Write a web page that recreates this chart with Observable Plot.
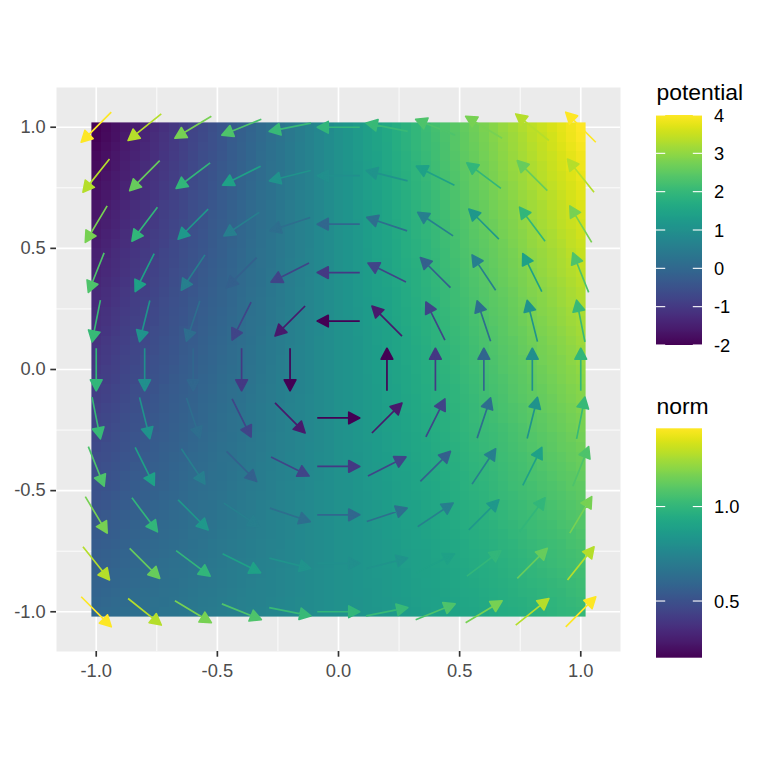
<!DOCTYPE html>
<html><head><meta charset="utf-8">
<script src="https://cdn.jsdelivr.net/npm/d3@7"></script>
<script src="https://cdn.jsdelivr.net/npm/@observablehq/plot@0.6"></script>
<style>
body{margin:0;background:#fff}
#chart{position:relative;width:768px;height:768px;font-family:"Liberation Sans",Arial,Helvetica,sans-serif}
#chart svg{position:absolute;left:0;top:0}
</style>
</head><body><div id="chart"></div>
<script>
// grid positions of the vectors / potential samples
const gridX = [-1, -0.8, -0.6, -0.4, -0.2, 0, 0.2, 0.4, 0.6, 0.8, 1];
const gridY = [1, 0.8, 0.6, 0.4, 0.2, 0, -0.2, -0.4, -0.6, -0.8, -1];
// potential read at the grid points (rows follow gridY, columns gridX)
const potentialRows = [
  [-2.0, -1.4, -0.8, -0.2, 0.4, 1.0, 1.6, 2.2, 2.8, 3.4, 4.0],
  [-1.8, -1.24, -0.68, -0.12, 0.44, 1.0, 1.56, 2.12, 2.68, 3.24, 3.8],
  [-1.6, -1.08, -0.56, -0.04, 0.48, 1.0, 1.52, 2.04, 2.56, 3.08, 3.6],
  [-1.4, -0.92, -0.44, 0.04, 0.52, 1.0, 1.48, 1.96, 2.44, 2.92, 3.4],
  [-1.2, -0.76, -0.32, 0.12, 0.56, 1.0, 1.44, 1.88, 2.32, 2.76, 3.2],
  [-1.0, -0.6, -0.2, 0.2, 0.6, 1.0, 1.4, 1.8, 2.2, 2.6, 3.0],
  [-0.8, -0.44, -0.08, 0.28, 0.64, 1.0, 1.36, 1.72, 2.08, 2.44, 2.8],
  [-0.6, -0.28, 0.04, 0.36, 0.68, 1.0, 1.32, 1.64, 1.96, 2.28, 2.6],
  [-0.4, -0.12, 0.16, 0.44, 0.72, 1.0, 1.28, 1.56, 1.84, 2.12, 2.4],
  [-0.2, 0.04, 0.28, 0.52, 0.76, 1.0, 1.24, 1.48, 1.72, 1.96, 2.2],
  [0.0, 0.2, 0.4, 0.6, 0.8, 1.0, 1.2, 1.4, 1.6, 1.8, 2.0]
];
// vector components: horizontal part is constant along each row, vertical part along each column
const uByRow = [-1, -0.8, -0.6, -0.4, -0.2, 0, 0.2, 0.4, 0.6, 0.8, 1];
const vByCol = [-1, -0.8, -0.6, -0.4, -0.2, 0, 0.2, 0.4, 0.6, 0.8, 1];
const axisTicks = [-1, -0.5, 0, 0.5, 1];
const minorTicks = [-0.75, -0.25, 0.25, 0.75];
const potentialDomain = [-2, 4];
const potentialTicks = [-2, -1, 0, 1, 2, 3, 4];
const normDomain = [0.2, 1.4142];
const normTicks = [0.5, 1.0];

const potentialData = [];
const vectors = [];
gridY.forEach((y, r) => gridX.forEach((x, c) => {
  potentialData.push({x, y, potential: potentialRows[r][c]});
  const u = uByRow[r], v = vByCol[c], norm = Math.hypot(u, v);
  if (norm > 0) vectors.push({x, y, u, v, norm});
}));

const FONT = '"Liberation Sans", Arial, Helvetica, sans-serif';
const common = {
  width: 768, height: 768,
  marginLeft: 56, marginRight: 148, marginTop: 87, marginBottom: 117
};
const dom = [-1.164, 1.164];
const ext = 1.0199; // raster half extent (cells of 0.04 centred on samples)

const base = Plot.plot({
  ...common,
  style: {fontFamily: FONT, background: "transparent"},
  x: {domain: dom, label: null},
  y: {domain: dom, label: null},
  color: {type: "linear", scheme: "viridis", domain: potentialDomain},
  marks: [
    Plot.frame({fill: "#EBEBEB"}),
    Plot.gridX(minorTicks, {stroke: "white", strokeOpacity: 1, strokeWidth: 0.84}),
    Plot.gridY(minorTicks, {stroke: "white", strokeOpacity: 1, strokeWidth: 0.84}),
    Plot.gridX(axisTicks, {stroke: "white", strokeOpacity: 1, strokeWidth: 1.67}),
    Plot.gridY(axisTicks, {stroke: "white", strokeOpacity: 1, strokeWidth: 1.67}),
    Plot.raster(potentialData, {
      x: "x", y: "y", fill: "potential",
      x1: -ext, x2: ext, y1: -ext, y2: ext,
      width: 51, height: 51,
      interpolate: "barycentric", imageRendering: "pixelated"
    }),
    Plot.axisX(axisTicks, {tickSize: 5.7, tickPadding: 7, fontSize: 18.3, stroke: "#333333", strokeWidth: 1.67, fill: "#4D4D4D", tickFormat: d => d.toFixed(1), label: null}),
    Plot.axisY(axisTicks, {tickSize: 5.7, tickPadding: 5, fontSize: 18.3, stroke: "#333333", strokeWidth: 1.67, fill: "#4D4D4D", tickFormat: d => d.toFixed(1), label: null})
  ]
});

const arrowShape = {
  draw(ctx, l) {
    const h = 11, w = 5.8;
    ctx.moveTo(0, 0);
    ctx.lineTo(0, -l + h * 0.6);
    ctx.moveTo(0, -l);
    ctx.lineTo(-w, -l + h);
    ctx.lineTo(w, -l + h);
    ctx.closePath();
  }
};

const over = Plot.plot({
  ...common,
  style: {fontFamily: FONT, background: "transparent"},
  x: {domain: dom, axis: null},
  y: {domain: dom, axis: null},
  color: {type: "linear", scheme: "viridis", domain: normDomain},
  marks: [
    Plot.vector(vectors, {
      x: "x", y: "y",
      rotate: d => Math.atan2(d.u, d.v) * 180 / Math.PI,
      length: 42.5, anchor: "middle", shape: arrowShape,
      stroke: "norm", fill: "norm", strokeWidth: 1.67,
      strokeLinejoin: "round", strokeLinecap: "butt"
    })
  ]
});

// legends (colour bars) built from Plot scales
const svg = d3.select(over);
const defs = svg.append("defs");
function colorbar(id, title, titleY, top, bottom, domain, ticks, fmt) {
  const sc = Plot.scale({color: {type: "linear", scheme: "viridis", domain}});
  const grad = defs.append("linearGradient").attr("id", id)
    .attr("x1", 0).attr("y1", 1).attr("x2", 0).attr("y2", 0);
  for (let i = 0; i <= 60; i++) {
    const t = i / 60;
    grad.append("stop").attr("offset", t).attr("stop-color", sc.apply(domain[0] + t * (domain[1] - domain[0])));
  }
  const ys = d3.scaleLinear().domain(domain).range([bottom, top]);
  const g = svg.append("g").attr("text-anchor", "start");
  g.append("text").attr("x", 656.5).attr("y", titleY).attr("font-size", 22.9)
    .attr("text-anchor", "start").attr("font-family", FONT).attr("fill", "black").text(title);
  g.append("rect").attr("x", 656).attr("y", top).attr("width", 46).attr("height", bottom - top)
    .attr("fill", `url(#${id})`);
  ticks.forEach(t => {
    const y = ys(t);
    g.append("line").attr("x1", 656).attr("x2", 665.2).attr("y1", y).attr("y2", y).attr("stroke", "white").attr("stroke-width", 1.1);
    g.append("line").attr("x1", 692.8).attr("x2", 702).attr("y1", y).attr("y2", y).attr("stroke", "white").attr("stroke-width", 1.1);
    g.append("text").attr("x", 714).attr("y", y).attr("dy", "0.36em").attr("font-size", 18.3)
      .attr("text-anchor", "start").attr("font-family", FONT).attr("fill", "black").text(fmt(t));
  });
}
colorbar("gradPotential", "potential", 99.5, 115, 345, potentialDomain, potentialTicks, t => String(t));
colorbar("gradNorm", "norm", 413.5, 428.3, 657.7, normDomain, normTicks, t => t.toFixed(1));

const chart = document.getElementById("chart");
chart.appendChild(base);
chart.appendChild(over);
</script>
</body></html>
